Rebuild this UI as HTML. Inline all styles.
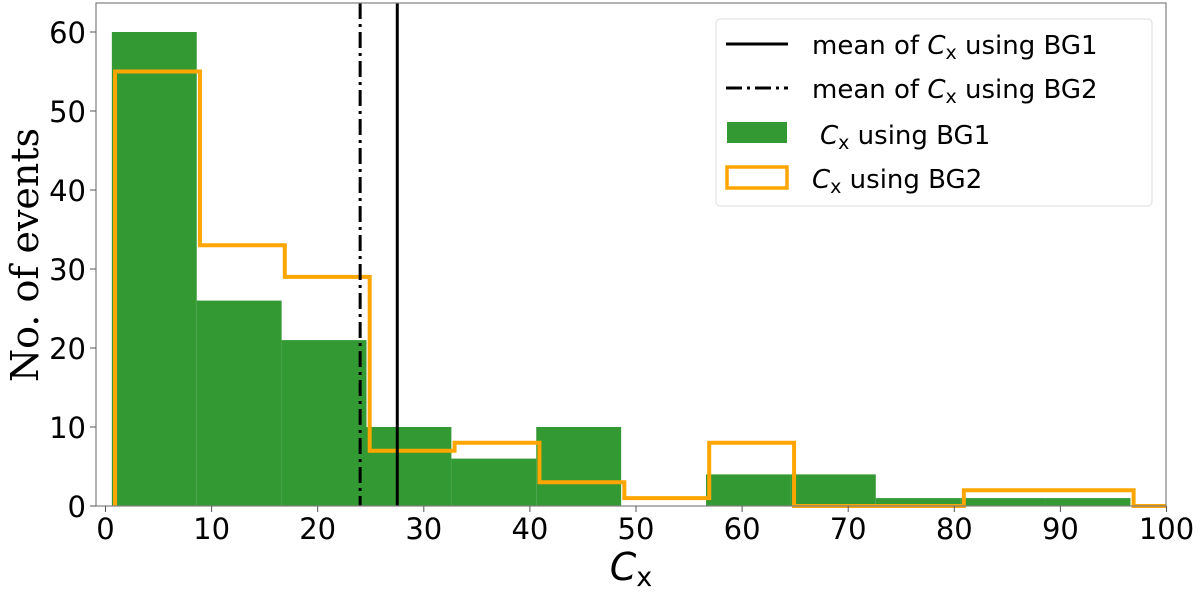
<!DOCTYPE html>
<html><head><meta charset="utf-8"><style>
body{margin:0;background:#fff;}
svg text{font-family:"DejaVu Sans","Liberation Sans",sans-serif;}
</style></head><body>
<svg id="chart" width="1200" height="589" viewBox="0 0 1200 589" xmlns="http://www.w3.org/2000/svg">
<g id="plot"></g>
</svg>
<script>
const greenEdges=[0.6,8.6,16.6,24.6,32.6,40.6,48.6,56.6,64.6,72.6,80.6,88.6,96.6];
const greenCounts=[60,26,21,10,6,10,0,4,4,1,1,1];
const orangeEdges=[0.9,8.9,16.9,24.9,32.9,40.9,48.9,56.9,64.9,72.9,80.9,88.9,96.9,100];
const orangeCounts=[55,33,29,7,8,3,1,8,0,0,2,2,0];
const meanBG1=27.5;
const meanBG2=24.0;
const xTicks=[0,10,20,30,40,50,60,70,80,90,100];
const yTicks=[0,10,20,30,40,50,60];

const L=96,R=1166,T=3,B=506;
const x=v=>105.5+(v-0)*10.61;
const y=v=>B-v*7.9;
const NS="http://www.w3.org/2000/svg";
const g=document.getElementById('plot');
function mk(tag,attrs,parent){const e=document.createElementNS(NS,tag);for(const k in attrs)e.setAttribute(k,attrs[k]);(parent||g).appendChild(e);return e;}

// green bars
for(let i=0;i<greenCounts.length;i++){
  const r=mk('rect',{x:x(greenEdges[i]),y:y(greenCounts[i]),width:x(greenEdges[i+1])-x(greenEdges[i]),height:B-y(greenCounts[i]),fill:'#339933'});
  
  
}
// orange step outline
let d='M'+x(orangeEdges[0])+','+B;
for(let i=0;i<orangeCounts.length;i++){
  d+=' L'+x(orangeEdges[i])+','+y(orangeCounts[i])+' L'+x(orangeEdges[i+1])+','+y(orangeCounts[i]);
}
const op=mk('path',{d:d,fill:'none',stroke:'#ffa500','stroke-width':4});


// mean lines
const m1=mk('line',{x1:x(meanBG1),x2:x(meanBG1),y1:T,y2:B,stroke:'#000','stroke-width':3});


const m2=mk('line',{x1:x(meanBG2),x2:x(meanBG2),y1:T,y2:B,stroke:'#000','stroke-width':3,'stroke-dasharray':'16,5,3,5'});


// axes frame
const fr=mk('rect',{x:L,y:T,width:R-L,height:B-T,fill:'none',stroke:'#808080','stroke-width':1.2});


// ticks
xTicks.forEach(v=>{
  mk('line',{x1:x(v),x2:x(v),y1:B,y2:B+6,stroke:'#555','stroke-width':1});
  const t=mk('text',{x:x(v),y:B+33,'font-size':29,'text-anchor':'middle',fill:'#000'});
  t.textContent=v;
  
  
});
yTicks.forEach(v=>{
  mk('line',{x1:L-6,x2:L,y1:y(v),y2:y(v),stroke:'#555','stroke-width':1});
  const t=mk('text',{x:L-10,y:y(v)+11,'font-size':29,'text-anchor':'end',fill:'#000'});
  t.textContent=v;
  
  
});
</script>
<svg style="position:absolute;left:0;top:0" width="1200" height="589" xmlns="http://www.w3.org/2000/svg">
<text x="631" y="580" font-size="38" text-anchor="middle" font-style="italic">C<tspan font-style="normal" font-size="27" dy="6">x</tspan></text>
<text transform="translate(38,255) rotate(-90)" font-size="38" text-anchor="middle" style="font-family:'DejaVu Serif','Liberation Serif',serif">No. of events</text>
<g>
<rect x="716" y="19" width="436" height="187" rx="4" fill="#fff" fill-opacity="0.8" stroke="#ddd"/>
<line x1="726" y1="44" x2="788" y2="44" stroke="#000" stroke-width="3"/>
<text x="812" y="54" font-size="26">mean of <tspan font-style="italic">C</tspan><tspan font-size="19" dy="5">x</tspan><tspan dy="-5"> using BG1</tspan></text>
<line x1="726" y1="88" x2="788" y2="88" stroke="#000" stroke-width="3" stroke-dasharray="16,5,3,5"/>
<text x="812" y="98" font-size="26">mean of <tspan font-style="italic">C</tspan><tspan font-size="19" dy="5">x</tspan><tspan dy="-5"> using BG2</tspan></text>
<rect x="727" y="122" width="60" height="21" fill="#339933"/>
<text x="820" y="144" font-size="26"><tspan font-style="italic">C</tspan><tspan font-size="19" dy="5">x</tspan><tspan dy="-5"> using BG1</tspan></text>
<rect x="727" y="167" width="60" height="21" fill="none" stroke="#ffa500" stroke-width="3.5"/>
<text x="812" y="188" font-size="26"><tspan font-style="italic">C</tspan><tspan font-size="19" dy="5">x</tspan><tspan dy="-5"> using BG2</tspan></text>
</g>
</svg>
</body></html>
